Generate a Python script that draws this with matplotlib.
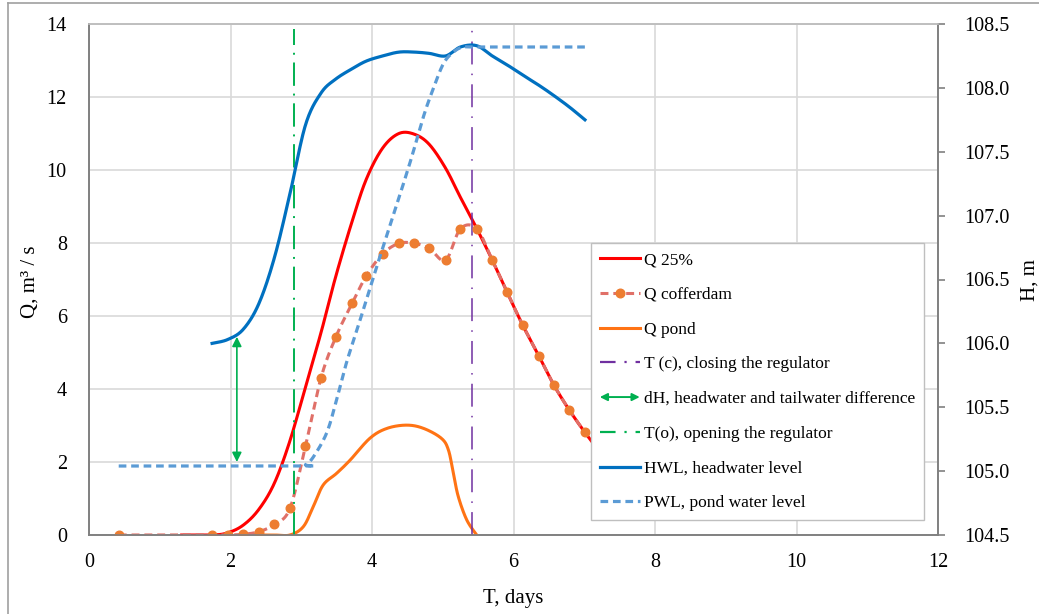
import numpy as np
import matplotlib
matplotlib.use("Agg")
import matplotlib.pyplot as plt
from matplotlib.lines import Line2D
from matplotlib.patches import FancyArrowPatch
from matplotlib.legend_handler import HandlerBase

plt.rcParams['font.family'] = ['Liberation Serif', 'DejaVu Serif']

# ---------------- data ----------------
t_q25 = [1.31, 1.74, 1.96, 2.18, 2.40, 2.62, 2.84, 3.06, 3.28, 3.49, 3.72, 3.92,
         4.15, 4.38, 4.60, 4.81, 5.04, 5.25, 5.48, 5.70, 5.91, 6.13, 6.36, 6.57,
         6.79, 7.01, 7.23]
q_q25 = [0.0, 0.0, 0.06, 0.27, 0.70, 1.42, 2.58, 4.06, 5.55, 7.10, 8.60, 9.75,
         10.60, 11.00, 10.98, 10.70, 10.05, 9.25, 8.40, 7.53, 6.65, 5.75, 4.90, 4.11,
         3.42, 2.81, 2.25]

t_coffer = [0.42, 1.74, 1.96, 2.18, 2.40, 2.62, 2.84, 3.06, 3.28, 3.49, 3.72, 3.92,
            4.15, 4.38, 4.60, 4.81, 5.04, 5.25, 5.48, 5.70, 5.91, 6.13, 6.36, 6.57,
            6.79, 7.01]
q_coffer = [0.0, 0.0, 0.0, 0.02, 0.09, 0.29, 0.73, 2.44, 4.31, 5.43, 6.35, 7.10,
            7.70, 7.99, 7.99, 7.85, 7.53, 8.39, 8.39, 7.53, 6.65, 5.75, 4.90, 4.11,
            3.42, 2.81]

t_pond = [2.42, 2.62, 2.84, 3.03, 3.17, 3.31, 3.50, 3.69, 3.97, 4.21, 4.49, 4.73,
          4.98, 5.08, 5.15, 5.22, 5.34, 5.48]
q_pond = [0.0, 0.0, 0.0, 0.23, 0.78, 1.37, 1.69, 2.05, 2.65, 2.92, 3.01, 2.92,
          2.65, 2.33, 1.69, 1.05, 0.41, 0.0]

t_hwl = [1.74, 1.96, 2.18, 2.40, 2.62, 2.84, 3.06, 3.28, 3.49, 3.72, 3.92, 4.15,
         4.38, 4.60, 4.81, 5.04, 5.25, 5.48, 5.70, 5.91, 6.13, 6.36, 6.57, 6.79, 7.01]
h_hwl = [106.00, 106.03, 106.11, 106.31, 106.67, 107.17, 107.71, 107.96, 108.07,
         108.15, 108.21, 108.25, 108.28, 108.28, 108.27, 108.25, 108.32, 108.33,
         108.25, 108.18, 108.10, 108.02, 107.94, 107.85, 107.75]

t_pwl = [0.42, 2.98, 3.06, 3.17, 3.36, 3.50, 3.64, 3.83, 4.02, 4.30, 4.54, 4.73,
         4.87, 5.01, 5.15, 5.29, 5.50, 7.01]
h_pwl = [105.04, 105.04, 105.05, 105.11, 105.30, 105.56, 105.85, 106.18, 106.52,
         107.00, 107.42, 107.78, 108.00, 108.19, 108.28, 108.32, 108.32, 108.32]

t_open = 2.90      # T(o), opening the regulator
t_close = 5.41     # T(c), closing the regulator
dh_t = 2.09        # position of dH arrow
dh_q = [2.0, 5.43] # arrow ends on Q axis

x_ticks = [0, 2, 4, 6, 8, 10, 12]
q_ticks = [0, 2, 4, 6, 8, 10, 12, 14]
h_ticks = [104.5, 105.0, 105.5, 106.0, 106.5, 107.0, 107.5, 108.0, 108.5]

labels = ["Q 25%", "Q cofferdam", "Q pond", "T (c), closing the regulator",
          "dH, headwater and tailwater difference", "T(o), opening the regulator",
          "HWL, headwater level", "PWL, pond water level"]

# ---------------- styles ----------------
C_RED = '#FF0000'
C_COF_L = '#E07068'
C_COF_M = '#ED7D31'
C_POND = '#FF7314'
C_HWL = '#0070C0'
C_PWL = '#5B9BD5'
C_OPEN = '#00B050'
C_CLOSE = '#7030A0'
C_GRID = '#D9D9D9'
C_AX = '#808080'


def smooth(x, y, n=24):
    """Excel-like smoothed line (Bezier through the points) for drawing."""
    x = np.asarray(x, float)
    y = np.asarray(y, float)
    px = np.concatenate([[x[0]], x, [x[-1]]])
    py = np.concatenate([[y[0]], y, [y[-1]]])
    ox, oy = [], []
    s = np.linspace(0, 1, n)
    for i in range(1, len(px) - 2):
        x0, x1, x2, x3 = px[i - 1], px[i], px[i + 1], px[i + 2]
        y0, y1, y2, y3 = py[i - 1], py[i], py[i + 1], py[i + 2]
        c1x, c1y = x1 + (x2 - x0) / 6, y1 + (y2 - y0) / 6
        c2x, c2y = x2 - (x3 - x1) / 6, y2 - (y3 - y1) / 6
        b0, b1, b2, b3 = (1 - s) ** 3, 3 * s * (1 - s) ** 2, 3 * s ** 2 * (1 - s), s ** 3
        ox.append(b0 * x1 + b1 * c1x + b2 * c2x + b3 * x2)
        oy.append(b0 * y1 + b1 * c1y + b2 * c2y + b3 * y2)
    return np.concatenate(ox), np.concatenate(oy)


fig = plt.figure(figsize=(10.39, 6.14), dpi=100)
ax = fig.add_axes([89 / 1039, 1 - 535 / 614, (938 - 89) / 1039, (535 - 24) / 614])
ax2 = ax.twinx()

ax.set_xlim(0, 12)
ax.set_ylim(0, 14)
ax2.set_ylim(104.5, 108.5)

# grid
ax.set_xticks(x_ticks)
ax.set_yticks(q_ticks)
ax2.set_yticks(h_ticks)
ax.grid(True, color=C_GRID, lw=1.2, zorder=0)
ax.set_axisbelow(True)

# lines on Q axis
xs, ys = smooth(t_q25, q_q25)
ax.plot(xs, ys, color=C_RED, lw=2.2, zorder=3)

xs, ys = smooth(t_pond, q_pond)
ax.plot(xs, ys, color=C_POND, lw=2.2, zorder=3)

xs, ys = smooth(t_coffer, q_coffer)
ax.plot(xs, ys, color=C_COF_L, lw=2.2, ls=(0, (2.6, 1.6)), zorder=4)
ax.plot(t_coffer, q_coffer, ls='none', marker='o', ms=6.2, color=C_COF_M,
        mec=C_COF_M, zorder=5)

ax.plot([t_open, t_open], [0, 13.85], color=C_OPEN, lw=1.4,
        ls=(0, (12, 4, 1, 4)), zorder=4)
ax.plot([t_close, t_close], [0, 14], color=C_CLOSE, lw=1.1,
        ls=(0, (15, 6, 1, 6)), zorder=4)

ax.annotate('', xy=(dh_t, dh_q[0]), xytext=(dh_t, dh_q[1]),
            arrowprops=dict(arrowstyle='<|-|>', color=C_OPEN, lw=1.2,
                            mutation_scale=14, shrinkA=0, shrinkB=0), zorder=4)

# lines on H axis
xs, ys = smooth(t_hwl, h_hwl)
ax2.plot(xs, ys, color=C_HWL, lw=2.3, zorder=3)
xs, ys = smooth(t_pwl, h_pwl)
ax2.plot(xs, ys, color=C_PWL, lw=2.3, ls=(0, (2.4, 1.5)), zorder=3)

# axes appearance
for a in (ax, ax2):
    for sp in a.spines.values():
        sp.set_color(C_AX)
        sp.set_linewidth(1.2)
    a.spines['top'].set_color('#BFBFBF')
ax.tick_params(axis='both', length=0, labelsize=14.5, pad=13)
ax.tick_params(axis='y', pad=16)
ax2.tick_params(axis='y', length=5, width=1.2, color=C_AX, direction='out',
                labelsize=14.5, pad=14)
ax2.set_yticklabels([f"{v:.1f}" for v in h_ticks])
ax.set_xticklabels([str(v) for v in x_ticks])
ax.set_yticklabels([str(v) for v in q_ticks])

ax.set_xlabel("T, days", fontsize=15)
ax.xaxis.set_label_coords(0.5, (535 - 598) / 511)
ax.xaxis.label.set_va('center')
ax.set_ylabel("Q, m³ / s", fontsize=15)
ax.yaxis.set_label_coords((30 - 89) / 849, (535 - 282) / 511)
ax.yaxis.label.set_va('center')
ax2.set_ylabel("H, m", fontsize=15)
ax2.yaxis.set_label_coords((1030 - 89) / 849, (535 - 280) / 511)
ax2.yaxis.label.set_va('center')


# legend
class ArrowHandler(HandlerBase):
    def create_artists(self, legend, orig_handle, xdescent, ydescent, width,
                       height, fontsize, trans):
        y = height / 2 - ydescent
        p = FancyArrowPatch((-xdescent, y), (width - xdescent, y),
                            arrowstyle='<|-|>', mutation_scale=11,
                            color=C_OPEN, lw=1.4, shrinkA=0, shrinkB=0,
                            transform=trans)
        return [p]


class ArrowProxy:
    pass


arrow_proxy = ArrowProxy()
handles = [
    Line2D([], [], color=C_RED, lw=2.2),
    Line2D([], [], color=C_COF_L, lw=2.2, ls=(0, (2.6, 1.6)), marker='o', ms=6.2,
           mfc=C_COF_M, mec=C_COF_M),
    Line2D([], [], color=C_POND, lw=2.2),
    Line2D([], [], color=C_CLOSE, lw=1.6, ls=(0, (7, 4, 1, 4))),
    arrow_proxy,
    Line2D([], [], color=C_OPEN, lw=1.6, ls=(0, (7, 4, 1, 4))),
    Line2D([], [], color=C_HWL, lw=2.3),
    Line2D([], [], color=C_PWL, lw=2.3, ls=(0, (2.4, 1.5))),
]
leg = ax2.legend(handles, labels, loc='lower right',
                 bbox_to_anchor=((924 - 89) / 849, (535 - 520) / 511),
                 borderaxespad=0, fontsize=12.5, frameon=True, fancybox=False,
                 edgecolor='#BFBFBF', framealpha=1, handlelength=2.3,
                 handletextpad=0.25, labelspacing=1.07, borderpad=0.5,
                 handler_map={ArrowProxy: ArrowHandler()})
leg.get_frame().set_linewidth(1.0)
leg.set_zorder(10)

# figure border (left and top)
fig.add_artist(Line2D([8 / 1039, 8 / 1039], [0, 1 - 3 / 614], color='#A0A0A0',
                      lw=1.2, transform=fig.transFigure))
fig.add_artist(Line2D([8 / 1039, 1], [1 - 3 / 614, 1 - 3 / 614], color='#A0A0A0',
                      lw=1.2, transform=fig.transFigure))

fig.savefig("out.png", dpi=100)
